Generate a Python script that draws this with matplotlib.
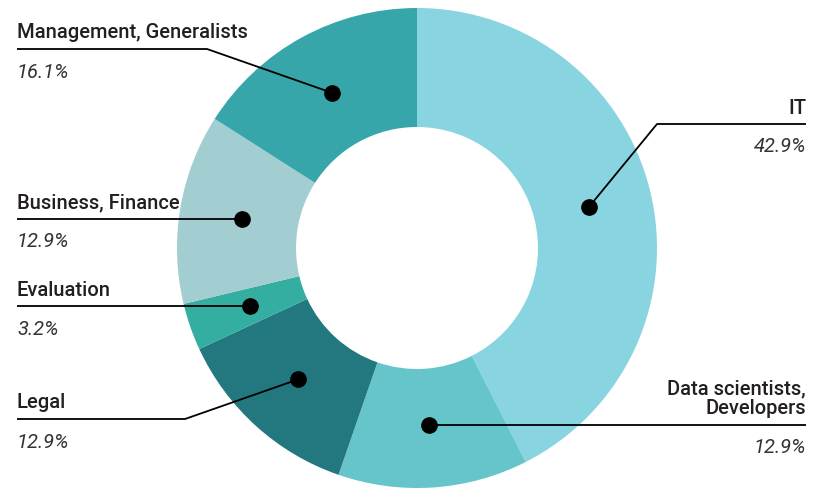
import numpy as np
import matplotlib
matplotlib.use("Agg")
import matplotlib.pyplot as plt

# share of each profile, clockwise from the top
categories = ["IT", "Data scientists,\nDevelopers", "Legal", "Evaluation",
              "Business, Finance", "Management, Generalists"]
shares = [42.9, 12.9, 12.9, 3.2, 12.9, 16.1]
colors = ["#89d4e1", "#66c5ca", "#22787e", "#33aea1", "#a2cdd1", "#37a6aa"]

ink = "#231f20"
plt.rcParams["font.family"] = ["Roboto", "DejaVu Sans"]

fig = plt.figure(figsize=(8.16, 4.89), dpi=100)
ax = fig.add_axes([0, 0, 1, 1])

cx, cy, r_out, r_in = 417, 249, 240, 121
wedges, _ = ax.pie(shares, colors=colors, startangle=-90, counterclock=True,
                   center=(cx, cy), radius=r_out,
                   wedgeprops=dict(width=r_out - r_in, linewidth=0))
ax.set_xlim(0, 816)
ax.set_ylim(489, 0)
ax.set_aspect("equal")
ax.axis("off")

# dot in the middle of each ring segment
r_mid = 177
dots = []
for w in wedges:
    a = np.deg2rad((w.theta1 + w.theta2) / 2)
    dots.append((cx + r_mid * np.cos(a), cy + r_mid * np.sin(a)))

# leader lines: (elbow point or None, end x, line y when elbowed, side)
leaders = [
    ((657, 125), 806, "right"),
    (None, 806, "right"),
    ((185, 420), 17, "left"),
    (None, 17, "left"),
    (None, 17, "left"),
    ((207, 50), 17, "left"),
]

for (dx, dy), (elbow, ex, side), name, val in zip(dots, leaders, categories, shares):
    if elbow is not None:
        xs, ys = [dx, elbow[0], ex], [dy, elbow[1], elbow[1]]
        line_y = elbow[1]
    else:
        xs, ys = [dx, ex], [dy, dy]
        line_y = dy
    ax.plot(xs, ys, color="black", lw=1.3, solid_capstyle="butt")
    ax.plot(dx, dy, "o", color="black", ms=11)
    n_lines = name.count("\n") + 1
    ax.text(ex, line_y - 17 - 10 * (n_lines - 1), name, ha=side, va="center",
            fontsize=14.5, color=ink, fontweight="medium", linespacing=1.05)
    ax.text(ex, line_y + 22, f"{val}%", ha=side, va="center", fontsize=14.5,
            color="#333333", style="italic")

fig.savefig("out.png", dpi=100)
